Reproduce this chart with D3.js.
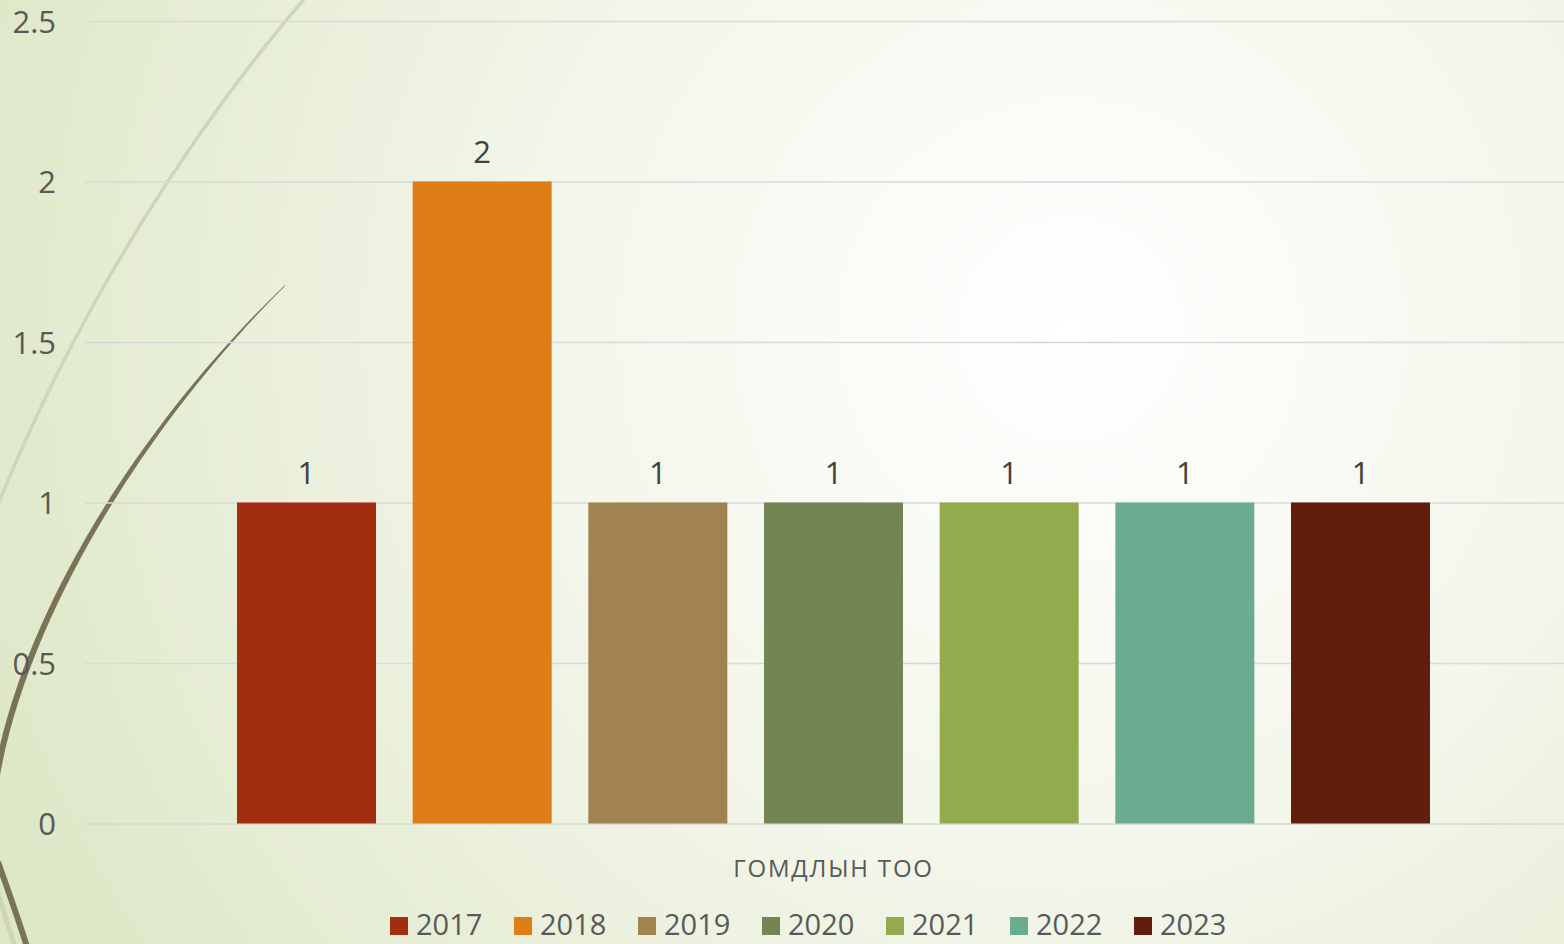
<!DOCTYPE html>
<html>
<head>
<meta charset="utf-8">
<script src="https://cdn.jsdelivr.net/npm/d3@7"></script>
<style>
  body { margin: 0; overflow: hidden; }
  text { font-family: "Open Sans", "Noto Sans", sans-serif; }
</style>
</head>
<body>
<div id="container"></div>
<script>
let w = 1564;
let h = 944;

// data
let categories = ["ГОМДЛЫН ТОО"];
let years = ["2017", "2018", "2019", "2020", "2021", "2022", "2023"];
let values = [1, 2, 1, 1, 1, 1, 1];
let yTicks = [0, 0.5, 1, 1.5, 2, 2.5];
let colors = ["#a32e0f", "#df7e17", "#a08350", "#728552", "#93aa4d", "#6aac90", "#621d0c"];

let viz = d3.select("#container").append("svg")
    .attr("width", w)
    .attr("height", h);

// background
let defs = viz.append("defs");
let grad = defs.append("radialGradient")
    .attr("id", "bg")
    .attr("gradientUnits", "userSpaceOnUse")
    .attr("cx", 1070).attr("cy", 330).attr("r", 1180);
grad.append("stop").attr("offset", 0).attr("stop-color", "#ffffff");
grad.append("stop").attr("offset", 0.45).attr("stop-color", "#f3f6ea");
grad.append("stop").attr("offset", 1).attr("stop-color", "#dde7c6");

viz.append("rect").attr("width", w).attr("height", h).attr("fill", "url(#bg)");

// decorative curves on the left
let deco = viz.append("g");
deco.append("path")
    .attr("d", "M305,-2 C200,120 80,300 -5,512")
    .attr("fill", "none")
    .attr("stroke", "#cfd5bb")
    .attr("stroke-width", 3.5);
deco.append("path")
    .attr("d", "M286,285 C150,420 20,620 -4,800 L-10,800 C13,618 146,418 284,286 Z")
    .attr("fill", "#7b7356");
deco.append("path")
    .attr("d", "M-6,880 C0,900 8,925 16,950")
    .attr("fill", "none")
    .attr("stroke", "#cfd5bb")
    .attr("stroke-width", 5);
deco.append("path")
    .attr("d", "M-2,862 C8,890 18,918 28,950")
    .attr("fill", "none")
    .attr("stroke", "#7b7356")
    .attr("stroke-width", 6);

// scales
let x0 = d3.scaleBand()
    .domain(categories)
    .range([85, 1582])
    .paddingInner(0)
    .paddingOuter(0.1274);

let x1 = d3.scaleBand()
    .domain(years)
    .range([0, x0.bandwidth()])
    .paddingInner(0.2087)
    .paddingOuter(0);

let y = d3.scaleLinear()
    .domain([0, 2.5])
    .range([823.5, 21]);

// gridlines
let yAxis = d3.axisLeft(y)
    .tickValues(yTicks)
    .tickSize(-(w - 85))
    .tickFormat(d3.format("~g"));

let axisG = viz.append("g")
    .attr("transform", "translate(85,0)")
    .call(yAxis);
axisG.select(".domain").remove();
axisG.selectAll(".tick line")
    .attr("stroke", "#d9d9d9")
    .attr("stroke-width", 1.6);
axisG.selectAll(".tick text")
    .attr("x", -29)
    .attr("dy", "0.36em")
    .attr("fill", "#595959")
    .style("font-size", "31px")
    .style("font-family", "'Open Sans', sans-serif");

// bars
let barGroup = viz.append("g")
    .attr("transform", "translate(" + x0(categories[0]) + ",0)");

barGroup.selectAll(".bar").data(values)
  .enter()
  .append("rect")
    .attr("class", "bar")
    .attr("x", function(d, i){ return x1(years[i]); })
    .attr("y", function(d){ return y(d); })
    .attr("width", x1.bandwidth())
    .attr("height", function(d){ return y(0) - y(d); })
    .attr("fill", function(d, i){ return colors[i]; });

barGroup.selectAll(".label").data(values)
  .enter()
  .append("text")
    .attr("class", "label")
    .attr("x", function(d, i){ return x1(years[i]) + x1.bandwidth() / 2; })
    .attr("y", function(d){ return y(d) - 19; })
    .attr("text-anchor", "middle")
    .attr("fill", "#404040")
    .style("font-size", "31px")
    .text(function(d){ return d; });

// category label
viz.append("text")
    .attr("x", x0(categories[0]) + x0.bandwidth() / 2)
    .attr("y", 877)
    .attr("text-anchor", "middle")
    .attr("fill", "#595959")
    .style("font-size", "24px")
    .style("letter-spacing", "1.8px")
    .text(categories[0]);

// legend
let legend = viz.append("g");
let legendItems = legend.selectAll(".leg").data(years)
  .enter()
  .append("g")
    .attr("class", "leg")
    .attr("transform", function(d, i){ return "translate(" + (390 + i * 124) + ",917)"; });

legendItems.append("rect")
    .attr("width", 18)
    .attr("height", 18)
    .attr("fill", function(d, i){ return colors[i]; });

legendItems.append("text")
    .attr("x", 26)
    .attr("y", 18)
    .attr("fill", "#595959")
    .style("font-size", "29px")
    .text(function(d){ return d; });
</script>
</body>
</html>
